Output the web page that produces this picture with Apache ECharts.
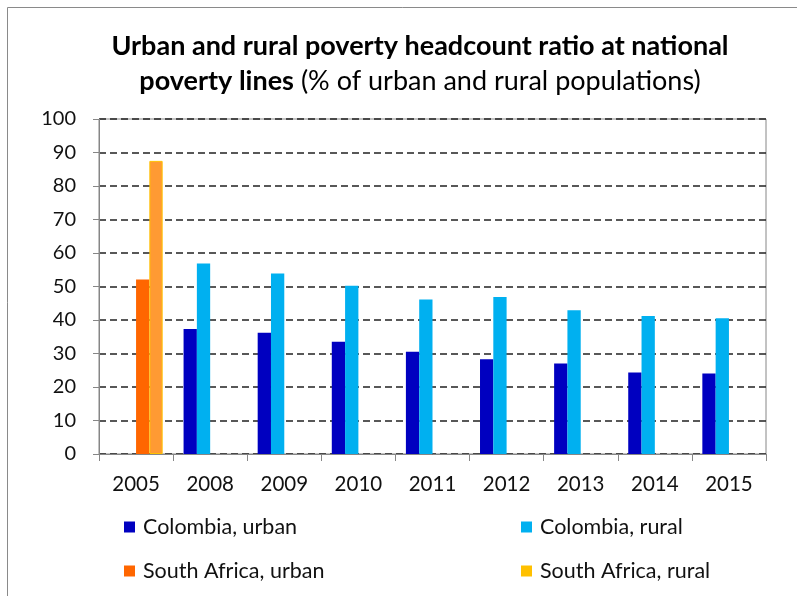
<!DOCTYPE html>
<html>
<head>
<meta charset="utf-8">
<script src="https://cdn.jsdelivr.net/npm/echarts@6/dist/echarts.min.js"></script>
<style>
html,body{margin:0;padding:0;background:#fff;}
#chart{width:797px;height:596px;}
</style>
</head>
<body>
<div id="chart"></div>
<script>
const categories = ['2005','2008','2009','2010','2011','2012','2013','2014','2015'];
const colombiaUrban = [null, 37.3, 36.2, 33.5, 30.5, 28.3, 27.0, 24.3, 24.0];
const colombiaRural = [null, 56.9, 53.9, 50.2, 46.1, 46.9, 42.9, 41.2, 40.5];
const southAfricaUrban = [52.1, null, null, null, null, null, null, null, null];
const southAfricaRural = [87.5, null, null, null, null, null, null, null, null];
const yTicks = { min: 0, max: 100, interval: 10 };

const FONT = 'Lato';
const chart = echarts.init(document.getElementById('chart'));

function legendAt(name, color, left, top) {
  return {
    left: left, top: top, orient: 'horizontal',
    icon: 'rect', itemWidth: 11, itemHeight: 11,
    padding: 0,
    data: [{ name: name, itemStyle: { color: color, borderWidth: 0 } }],
    textStyle: { fontFamily: FONT, fontSize: 21.5, color: '#111', padding: [0, 0, 0, 3] },
    selectedMode: false
  };
}

const option = {
  backgroundColor: '#fff',
  animation: false,
  title: {
    left: 420, top: 29, padding: 0, textAlign: 'center',
    text: '{b|Urban and rural poverty headcount ratio at national}\n{b|poverty lines}{n| (% of urban and rural populations)}',
    textStyle: {
      rich: {
        b: { fontFamily: FONT, fontWeight: 'bold', fontSize: 27, color: '#000', lineHeight: 35 },
        n: { fontFamily: FONT, fontWeight: 'normal', fontSize: 27, color: '#000', lineHeight: 35 }
      }
    }
  },
  graphic: [{
    type: 'rect', silent: true, z: -1,
    shape: { x: 7.5, y: 7.5, width: 800, height: 600 },
    style: { fill: 'none', stroke: '#8a8a8a', lineWidth: 1 }
  }],
  legend: [
    legendAt('Colombia, urban', '#0000C0', 124, 516),
    legendAt('Colombia, rural', '#00B0F0', 521, 516),
    legendAt('South Africa, urban', '#FF6600', 124, 560),
    legendAt('South Africa, rural', '#FFC000', 521, 560)
  ],
  grid: {
    left: 99, right: 31, top: 119, bottom: 142,
    show: true, borderColor: '#868686', borderWidth: 1, backgroundColor: 'transparent'
  },
  xAxis: {
    type: 'category', data: categories,
    axisLine: { lineStyle: { color: '#868686', width: 1 } },
    axisTick: { show: true, length: 7, lineStyle: { color: '#868686' } },
    axisLabel: { fontFamily: FONT, fontSize: 20.5, color: '#111', margin: 20 }
  },
  yAxis: {
    type: 'value', min: yTicks.min, max: yTicks.max, interval: yTicks.interval,
    axisLine: { show: true, lineStyle: { color: '#868686', width: 1 } },
    axisTick: { show: true, length: 6, lineStyle: { color: '#868686' } },
    axisLabel: { fontFamily: FONT, fontSize: 20, color: '#111', margin: 23 },
    splitLine: { show: true, lineStyle: { color: '#222', type: [7, 4], width: 1.5 } }
  },
  series: [
    { name: 'Colombia, urban', type: 'bar', data: colombiaUrban, barWidth: 13.3, barGap: '0%',
      itemStyle: { color: '#0000C0' } },
    { name: 'Colombia, rural', type: 'bar', data: colombiaRural, barWidth: 13.3, barGap: '0%',
      itemStyle: { color: '#00B0F0' } },
    { name: 'South Africa, urban', type: 'bar', data: southAfricaUrban, barWidth: 13.3, barGap: '0%',
      itemStyle: { color: '#FF6600' } },
    { name: 'South Africa, rural', type: 'bar', data: southAfricaRural, barWidth: 13.3, barGap: '0%',
      itemStyle: { color: '#FF9A33', borderColor: '#FFC000', borderWidth: 1 } }
  ]
};
chart.setOption(option);
</script>
</body>
</html>
